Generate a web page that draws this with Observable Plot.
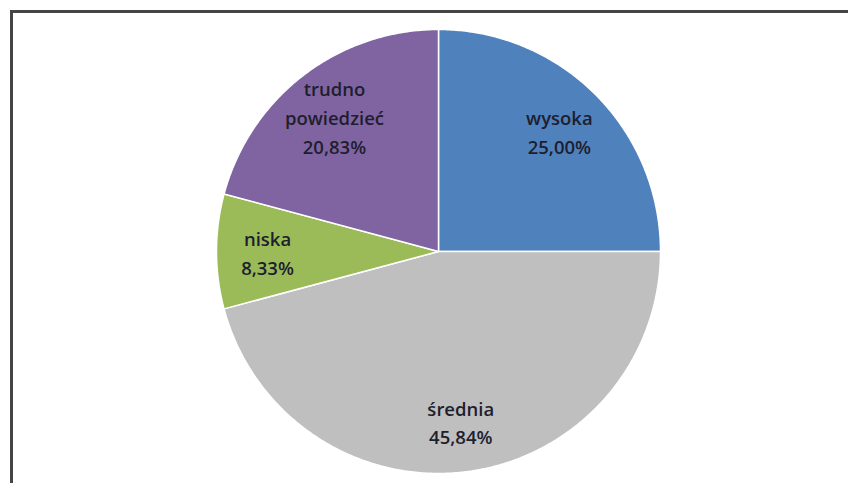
<!DOCTYPE html>
<html>
<head>
<meta charset="utf-8">
<script src="https://cdn.jsdelivr.net/npm/d3@7"></script>
<script src="https://cdn.jsdelivr.net/npm/@observablehq/plot@0.6"></script>
<style>
  html, body { margin: 0; padding: 0; background: #fff; }
  #wrap { position: relative; width: 848px; height: 483px; overflow: hidden; }
  #frame { position: absolute; left: 10px; top: 10px; width: 900px; height: 600px;
           border-top: 3px solid #454545; border-left: 3px solid #454545; box-sizing: border-box; }
  #chart { position: absolute; left: 0; top: 0; }
</style>
</head>
<body>
<div id="wrap"><div id="frame"></div><div id="chart"></div></div>
<script>
// Data (order clockwise from 12 o'clock)
const categories = ["wysoka", "średnia", "niska", "trudno\npowiedzieć"];
const values = [25.00, 45.84, 8.33, 20.83];
const valueLabels = ["25,00%", "45,84%", "8,33%", "20,83%"];
const colors = ["#4F81BD", "#BFBFBF", "#9BBB59", "#8064A2"];

const pie = d3.pie().sort(null).value(d => d)(values);

// Build slice polygons in unit coordinates (angle 0 = top, clockwise)
const pts = [];
pie.forEach((a, i) => {
  const n = Math.max(8, Math.ceil((a.endAngle - a.startAngle) / 0.01));
  pts.push({k: i, x: 0, y: 0});
  for (let j = 0; j <= n; j++) {
    const t = a.startAngle + (a.endAngle - a.startAngle) * j / n;
    pts.push({k: i, x: Math.sin(t), y: Math.cos(t)});
  }
  pts.push({k: i, x: 0, y: 0});
});

const labelR = 0.77;
const labels = pie.map((a, i) => {
  const m = (a.startAngle + a.endAngle) / 2;
  return {x: labelR * Math.sin(m), y: labelR * Math.cos(m), text: categories[i] + "\n" + valueLabels[i]};
});

const plot = Plot.plot({
  width: 848,
  height: 483,
  margin: 0,
  x: {domain: [-1, 1], range: [216, 660], axis: null},
  y: {domain: [-1, 1], range: [473, 29], axis: null},
  style: {background: "transparent", fontFamily: "'Open Sans', sans-serif"},
  marks: [
    Plot.line(pts, {x: "x", y: "y", z: "k", fill: d => colors[d.k], stroke: "#ffffff", strokeWidth: 1.5, curve: "linear-closed"}),
    Plot.text(labels, {x: "x", y: "y", text: "text", fontSize: 18.5, fontWeight: 600, fill: "#1e1e2e", lineHeight: 1.55})
  ]
});
document.getElementById("chart").appendChild(plot);
</script>
</body>
</html>
